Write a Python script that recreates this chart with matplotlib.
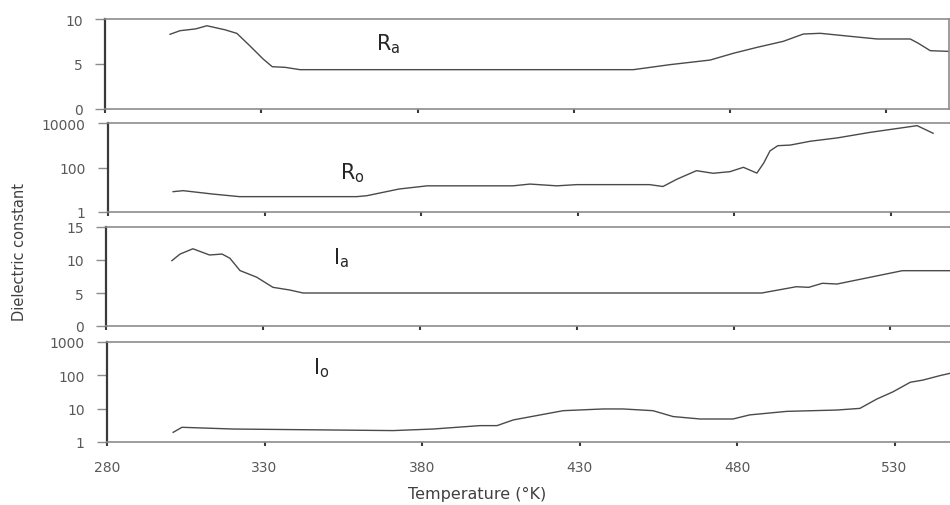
import matplotlib
matplotlib.use("Agg")
import matplotlib.pyplot as plt
from matplotlib.ticker import FixedLocator, FixedFormatter, NullLocator

# data (temperature in K, dielectric constant)
ra_t = [300.8, 304, 309, 312.6, 318.4, 322.2, 326.4, 330.6, 333.5, 337.6, 342.4,
        449, 460.8, 473.6, 481, 488.6, 497, 503.4, 508.8, 519.4, 527, 537.6, 540.2, 544, 550]
ra_v = [8.3, 8.7, 8.9, 9.25, 8.8, 8.4, 7.0, 5.55, 4.7, 4.63, 4.37,
        4.37, 4.93, 5.44, 6.19, 6.85, 7.52, 8.33, 8.41, 8.04, 7.78, 7.78, 7.3, 6.48, 6.4]

ro_t = [300.8, 304, 313.5, 322, 359.5, 362.7, 373, 382, 399, 409.4, 414.8, 423.4, 429.8,
        453, 457.3, 461.8, 468, 473.3, 478.7, 483, 487.3, 489.5, 491.5, 494, 498,
        504.3, 513, 523.5, 538.5, 543.6]
ro_v = [8.2, 9.1, 6.4, 4.9, 4.9, 5.4, 10.8, 15, 15, 15, 18, 15, 17,
        17, 14, 30, 72, 55, 65, 102, 56, 160, 560, 955, 1020,
        1510, 2140, 3800, 7600, 3460]

ia_t = [301, 303.6, 307.7, 313, 317, 319.5, 322.7, 328, 333.2, 338.6, 342.8,
        489, 500, 504, 508.3, 513, 533.8, 548.8]
ia_v = [9.9, 10.9, 11.7, 10.76, 10.9, 10.26, 8.4, 7.4, 5.86, 5.45, 5.0,
        5.0, 5.95, 5.86, 6.47, 6.36, 8.38, 8.38]

io_t = [301, 303.8, 320, 370.8, 383.5, 398.4, 403.8, 409, 424.8, 437.5, 443.8, 453.3,
        459.7, 468.3, 478.7, 484, 495.8, 511.7, 519, 524.4, 529.5, 535, 539, 544.4, 547.6]
io_v = [1.95, 2.76, 2.45, 2.2, 2.45, 3.1, 3.1, 4.6, 8.7, 9.8, 9.8, 8.7,
        5.8, 4.9, 4.9, 6.5, 8.3, 9.1, 10.2, 19.5, 32, 62, 72, 98, 115]

x_ticks = [280, 330, 380, 430, 480, 530]

W, H = 950, 506
fig = plt.figure(figsize=(9.5, 5.06), dpi=100)

line_col = "#4a4a4a"
grey = "#8c8c8c"
txt_col = "#595959"

# (left px, right px, top px, bottom px, xmax)
boxes = [(105, 949, 20, 110, 550),
         (108, 950, 124, 213, 549),
         (106, 950, 228, 327, 549),
         (107, 950, 343, 443, 547.6)]

panels = [
    (ra_t, ra_v, "linear", (0, 10), [0, 5, 10], ["0", "5", "10"], r"$\mathregular{R_a}$", 370.6, 7.3),
    (ro_t, ro_v, "log", (1, 10000), [1, 100, 10000], ["1", "100", "10000"], r"$\mathregular{R_o}$", 358, 60),
    (ia_t, ia_v, "linear", (0, 15), [0, 5, 10, 15], ["0", "5", "10", "15"], r"$\mathregular{I_a}$", 355, 10.4),
    (io_t, io_v, "log", (1, 1000), [1, 10, 100, 1000], ["1", "10", "100", "1000"], r"$\mathregular{I_o}$", 348, 180),
]

for i, (box, p) in enumerate(zip(boxes, panels)):
    l, r, t, b, xmax = box
    ts, vs, scale, ylim, yt, ytl, lab, lx, ly = p
    ax = fig.add_axes([l / W, (H - b) / H, (r - l) / W, (b - t) / H])
    ax.plot(ts, vs, color=line_col, lw=1.0)
    ax.set_yscale(scale)
    ax.set_ylim(*ylim)
    ax.set_xlim(280, xmax)
    ax.yaxis.set_major_locator(FixedLocator(yt))
    ax.yaxis.set_major_formatter(FixedFormatter(ytl))
    ax.yaxis.set_minor_locator(NullLocator())
    ax.xaxis.set_major_locator(FixedLocator(x_ticks))
    ax.set_xticklabels([str(v) for v in x_ticks] if i == 3 else [])
    ax.spines["left"].set_color("#3a3a3a")
    ax.spines["left"].set_linewidth(1.6)
    for s in ["bottom", "top", "right"]:
        ax.spines[s].set_color(grey)
        ax.spines[s].set_linewidth(1.2)
    ax.spines["right"].set_visible(i == 0)
    ax.tick_params(axis="y", direction="out", length=7, width=1, color=grey,
                   labelsize=10, labelcolor=txt_col, pad=9)
    ax.tick_params(axis="x", direction="out", length=3, width=1.5, color="#3a3a3a",
                   labelsize=10, labelcolor=txt_col, pad=10)
    ax.text(lx, ly, lab, fontsize=15, color="#262626", ha="center", va="center")

fig.text(477 / W, (H - 494) / H, "Temperature (\u00b0K)", ha="center", va="center",
         fontsize=11.5, color="#404040")
fig.text(20 / W, (H - 252) / H, "Dielectric constant", rotation=90, ha="center",
         va="center", fontsize=10.5, color="#404040",
         family=["Liberation Sans Narrow", "DejaVu Sans"])

fig.savefig("out.png", dpi=100)
